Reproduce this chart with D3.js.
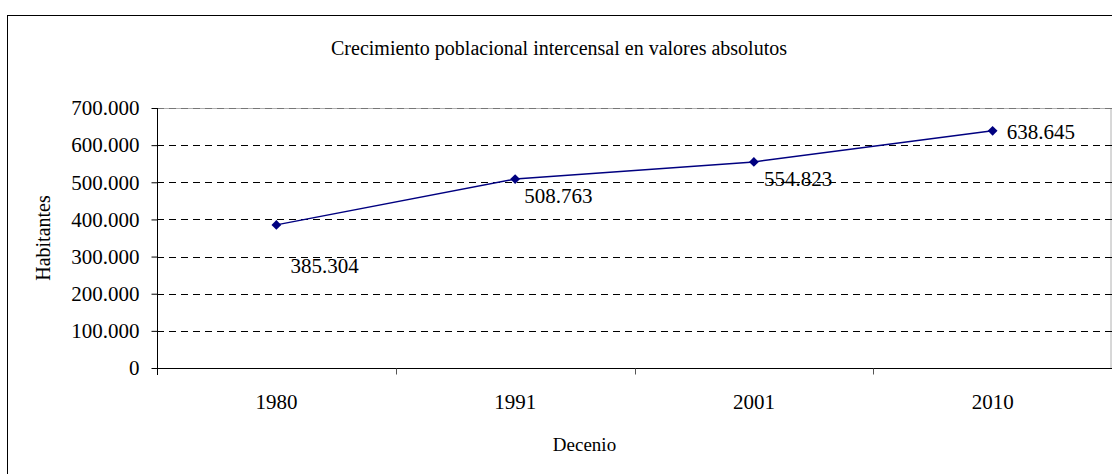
<!DOCTYPE html>
<html>
<head>
<meta charset="utf-8">
<script src="https://cdn.jsdelivr.net/npm/d3@7"></script>
<style>
  body { margin: 0; background: #fff; }
  svg text { font-family: "Liberation Serif", "Times New Roman", serif; fill: #000; }
</style>
</head>
<body>
<script>
var decenios = ["1980", "1991", "2001", "2010"];
var habitantes = [385304, 508763, 554823, 638645];
var yTicks = [0, 100000, 200000, 300000, 400000, 500000, 600000, 700000];

// where each value label sits relative to its point (px), as in the original
var labelOffsets = [[14, 48], [9, 24], [10, 24], [14, 8]];

var W = 1112, H = 474;
var plot = {left: 157, right: 1112, top: 108, bottom: 368};

var locale = d3.formatLocale({decimal: ",", thousands: ".", grouping: [3], currency: ["$", ""]});
var fmt = locale.format(",d");

var svg = d3.select("body").append("svg")
    .attr("width", W)
    .attr("height", H);

// outer chart frame (runs off the right and bottom edges)
svg.append("rect")
    .attr("x", 7.5).attr("y", 15.5)
    .attr("width", 1130).attr("height", 500)
    .attr("fill", "#fff")
    .attr("stroke", "#000");

var x = d3.scaleBand()
    .domain(decenios)
    .range([plot.left, plot.right])
    .padding(0);

var y = d3.scaleLinear()
    .domain([0, 700000])
    .range([plot.bottom, plot.top]);

// plot area border
svg.append("rect")
    .attr("x", plot.left + 0.5).attr("y", plot.top + 0.5)
    .attr("width", plot.right - plot.left - 1.5)
    .attr("height", plot.bottom - plot.top)
    .attr("fill", "none")
    .attr("stroke", "#b0b0b0");

// gridlines
svg.append("g").selectAll("line")
    .data(yTicks.filter(function(d) { return d > 0; }))
  .enter().append("line")
    .attr("x1", plot.left)
    .attr("x2", plot.right)
    .attr("y1", function(d) { return Math.round(y(d)) + 0.5; })
    .attr("y2", function(d) { return Math.round(y(d)) + 0.5; })
    .attr("stroke", function(d) { return d === 700000 ? "#777" : "#000"; })
    .attr("stroke-dasharray", "7,5");

// y axis
var yAxis = d3.axisLeft(y)
    .tickValues(yTicks)
    .tickFormat(function(d) { return d === 0 ? "0" : fmt(d); })
    .tickSize(6)
    .tickPadding(12)
    .tickSizeOuter(0);

var gy = svg.append("g")
    .attr("transform", "translate(" + (plot.left + 0.5) + ",0)")
    .call(yAxis);
gy.select(".domain").attr("stroke", "#000").attr("d", "M0," + plot.top + "V" + (plot.bottom + 7));
gy.selectAll(".tick line").attr("stroke", "#000");
gy.selectAll(".tick text")
    .style("font-size", "21px")
    .style("font-family", "'Liberation Serif', 'Times New Roman', serif");

// x axis
var xAxis = d3.axisBottom(x).tickSize(0).tickPadding(26);
var gx = svg.append("g")
    .attr("transform", "translate(0," + (plot.bottom + 0.5) + ")")
    .call(xAxis);
gx.select(".domain").attr("stroke", "#000").attr("d", "M" + plot.left + ",0H" + plot.right);
gx.selectAll(".tick text")
    .style("font-size", "21px")
    .style("font-family", "'Liberation Serif', 'Times New Roman', serif");

// category boundary ticks
gx.selectAll(".sep")
    .data(decenios.slice(1))
  .enter().append("line")
    .attr("class", "sep")
    .attr("x1", function(d) { return Math.round(x(d)) + 0.5; })
    .attr("x2", function(d) { return Math.round(x(d)) + 0.5; })
    .attr("y1", 0).attr("y2", 6)
    .attr("stroke", "#555");

// series line
var pts = decenios.map(function(d, i) {
    return {cat: d, value: habitantes[i], i: i,
            px: x(d) + x.bandwidth() / 2, py: y(habitantes[i])};
});

var line = d3.line()
    .x(function(d) { return d.px; })
    .y(function(d) { return d.py; });

svg.append("path")
    .datum(pts)
    .attr("d", line)
    .attr("fill", "none")
    .attr("stroke", "#000080")
    .attr("stroke-width", 1.5);

svg.selectAll(".marker")
    .data(pts)
  .enter().append("path")
    .attr("class", "marker")
    .attr("d", d3.symbol(d3.symbolSquare, 48))
    .attr("transform", function(d) { return "translate(" + d.px + "," + d.py + ") rotate(45)"; })
    .attr("fill", "#000080");

svg.selectAll(".vlabel")
    .data(pts)
  .enter().append("text")
    .attr("class", "vlabel")
    .attr("x", function(d) { return d.px + labelOffsets[d.i][0]; })
    .attr("y", function(d) { return d.py + labelOffsets[d.i][1]; })
    .style("font-size", "21px")
    .text(function(d) { return fmt(d.value); });

// titles
svg.append("text")
    .attr("x", 559).attr("y", 55)
    .attr("text-anchor", "middle")
    .style("font-size", "20px")
    .text("Crecimiento poblacional intercensal en valores absolutos");

svg.append("text")
    .attr("transform", "translate(50," + ((plot.top + plot.bottom) / 2) + ") rotate(-90)")
    .attr("text-anchor", "middle")
    .style("font-size", "20px")
    .text("Habitantes");

svg.append("text")
    .attr("x", x("2001") - 50).attr("y", 451)
    .attr("text-anchor", "middle")
    .style("font-size", "19px")
    .text("Decenio");
</script>
</body>
</html>
